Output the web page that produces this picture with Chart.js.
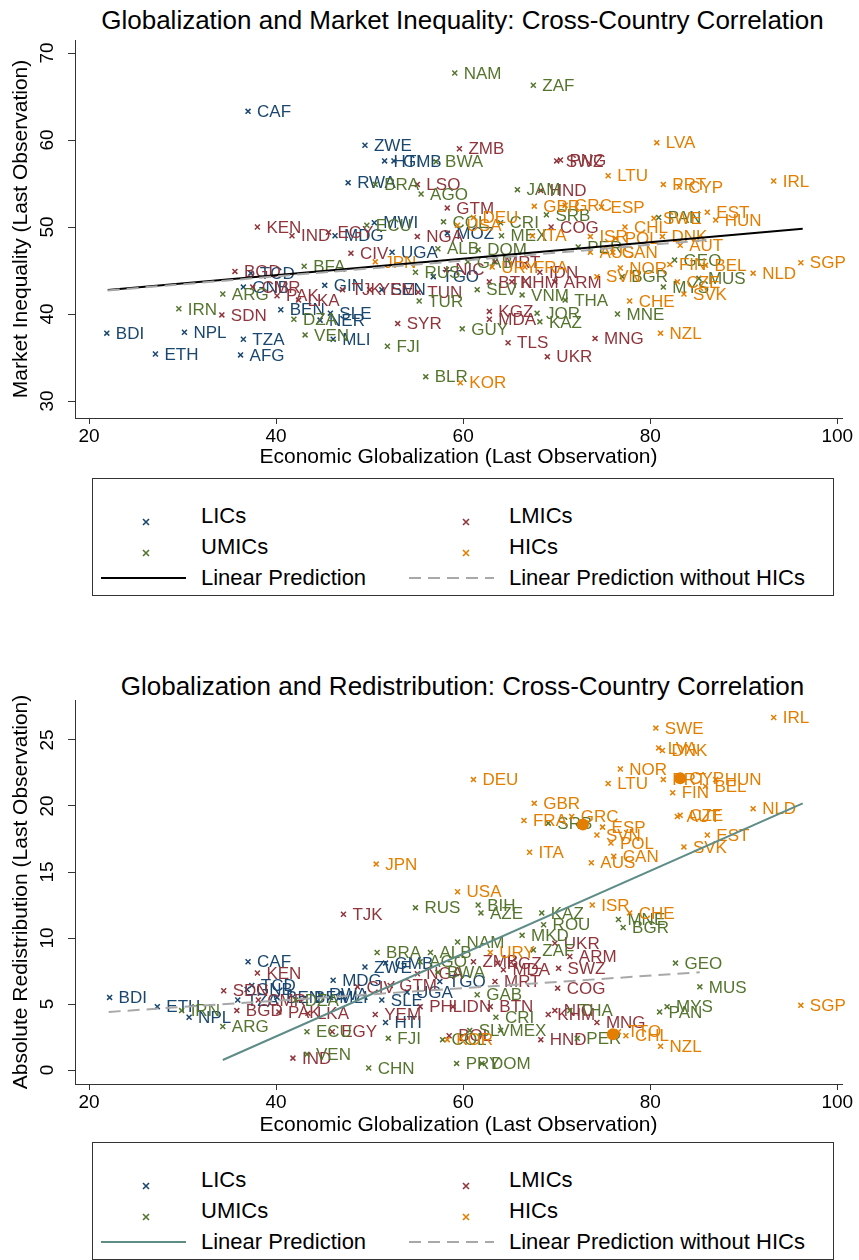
<!DOCTYPE html>
<html>
<head>
<meta charset="utf-8">
<script src="https://cdn.jsdelivr.net/npm/chart.js@4.4.0/dist/chart.umd.min.js"></script>
<style>
  body { margin: 0; background: #fff; }
  #page { position: relative; width: 859px; height: 1260px; overflow: hidden; font-family: "Liberation Sans", Arial, Helvetica, sans-serif; color: #000; }
  .ttl { position: absolute; left: 75px; width: 775px; text-align: center; font-size: 26px; line-height: 30px; white-space: nowrap; }
  .cv { position: absolute; left: 0; }
  .legend { position: absolute; left: 92px; width: 740px; height: 116px; border: 1px solid #333; background: #fff; }
  .legend .it { position: absolute; font-size: 22px; line-height: 26px; white-space: nowrap; }
  .legend .ln { position: absolute; width: 85px; height: 2px; }
</style>
</head>
<body>
<div id="page">
  <div class="ttl" style="top:5px">Globalization and Market Inequality: Cross-Country Correlation</div>
  <canvas id="top" class="cv" style="top:0" width="859" height="476"></canvas>
  <div id="legTop" class="legend" style="top:478px"></div>

  <div class="ttl" style="top:671px">Globalization and Redistribution: Cross-Country Correlation</div>
  <canvas id="bot" class="cv" style="top:630px" width="859" height="510"></canvas>
  <div id="legBot" class="legend" style="top:1142px"></div>
</div>
<script>
const FONT = '"Liberation Sans", Arial, Helvetica, sans-serif';

// tick labels
const xTickValues = [20, 40, 60, 80, 100];
const topYTicks = [30, 40, 50, 60, 70];
const botYTicks = [0, 5, 10, 15, 20, 25];
const groupLabels = ['LICs', 'LMICs', 'UMICs', 'HICs'];
const groupColors = ['#1a476f', '#90353b', '#55752f', '#e37e00'];

// ---- top panel: market inequality ----
const licTopNames = ['CAF','ZWE','HTI','GMB','RWA','UGA','MOZ','MDG','MWI','TGO','GIN','SEN','SLE','NER','MLI','BEN','TCD','GNB','TZA','AFG','ETH','BDI','NPL'];
const licTopX = [37.0,49.5,51.6,52.6,47.7,52.4,58.3,46.3,50.5,56.8,45.2,51.3,45.8,44.7,46.1,40.5,37.3,36.5,36.5,36.2,27.1,21.9,30.2];
const licTopY = [63.3,59.4,57.6,57.6,55.1,47.1,49.3,49.0,50.5,44.3,43.3,42.8,40.1,39.3,37.1,40.5,44.7,43.1,37.1,35.3,35.4,37.8,37.9];

const lmicTopNames = ['ZMB','LSO','GTM','HND','SWZ','PNG','KEN','IND','EGY','CIV','NGA','COG','NIC','MRT','BTN','KHM','IDN','ARM','TJK','YEM','TUN','PAK','LKA','BGD','CMR','SDN','SYR','KGZ','MDA','TLS','UKR','MNG'];
const lmicTopX = [59.6,55.1,58.3,68.3,70.0,70.4,38.0,41.7,45.6,48.0,55.1,69.4,58.2,63.4,62.8,65.2,68.2,69.8,47.1,50.0,55.2,40.1,42.4,35.6,37.5,34.2,53.0,62.8,62.8,64.8,69.0,74.1];
const lmicTopY = [59.0,54.9,52.2,54.2,57.6,57.7,50.0,49.0,49.4,47.0,48.9,50.0,45.1,46.0,43.7,43.7,44.8,43.7,42.8,42.8,42.5,42.1,41.6,44.9,43.1,39.9,38.9,40.3,39.4,36.7,35.1,37.2];

const umicTopNames = ['NAM','ZAF','BWA','BRA','AGO','JAM','SRB','COL','CRI','MEX','ECU','ALB','DOM','GAB','PER','RUS','BFA','DZA','VEN','ARG','IRN','TUR','SLV','VNM','THA','JOR','KAZ','GUY','FJI','BLR','PAN','BGR','MNE','GEO','MUS','MYS'];
const umicTopX = [59.1,67.5,57.1,50.6,55.5,65.8,68.9,57.9,64.0,64.1,49.7,57.3,61.6,60.5,72.3,54.9,43.0,41.9,43.1,34.3,29.6,55.3,61.5,66.3,70.9,67.9,68.2,59.9,51.9,56.0,80.9,77.0,76.5,82.6,85.2,81.4];
const umicTopY = [67.7,66.3,57.5,54.9,53.8,54.3,51.4,50.6,50.5,49.0,50.2,47.5,47.4,46.0,47.7,44.8,45.5,39.4,37.6,42.3,40.6,41.5,42.8,42.2,41.6,40.1,39.1,38.3,36.3,32.8,51.1,44.3,40.0,46.2,44.1,43.1];

const hicTopNames = ['LVA','LTU','PRT','CYP','IRL','EST','HUN','SWE','ESP','GBR','GRC','DEU','USA','ITA','CHL','DNK','AUT','FIN','BEL','NLD','SGP','CZE','SVK','NOR','SVN','CHE','NZL','KOR','JPN','URY','FRA','ISR','POL','AUS','CAN'];
const hicTopX = [80.7,75.5,81.4,83.1,93.2,86.1,87.0,80.4,74.8,67.6,70.9,61.1,59.4,67.4,77.3,81.3,83.2,82.1,85.9,91.0,96.1,82.9,83.6,76.8,74.3,77.8,81.1,59.7,50.6,63.1,66.6,73.6,76.3,73.6,76.0];
const hicTopY = [59.7,55.9,54.9,54.6,55.3,51.7,50.8,51.0,52.3,52.4,52.5,51.1,50.2,49.0,50.0,48.9,47.9,45.7,45.6,44.7,45.9,43.7,42.3,45.3,44.3,41.5,37.8,32.1,46.0,45.4,45.4,48.9,48.7,47.1,47.1];

const topFitX = [22.0, 96.3];
const topFitY = [42.75, 49.8];
const topFitNoHicX = [22.0, 86.0];
const topFitNoHicY = [42.7, 48.5];

// ---- bottom panel: redistribution ----
const licBotNames = ['CAF','TCD','GNB','TZA','BEN','BFA','RWA','MLI','ETH','BDI','NPL','MDG','ZWE','GMB','HTI','SLE','UGA','TGO'];
const licBotX = [37.0,37.4,36.9,35.9,40.1,43.1,44.7,45.8,27.3,22.2,30.7,46.1,49.5,51.7,51.7,51.3,54.0,57.5];
const licBotY = [8.2,6.4,6.1,5.3,5.5,5.5,5.7,5.5,4.8,5.5,4.0,6.8,7.8,8.1,3.6,5.3,5.9,6.7];

const lmicBotNames = ['KEN','SDN','CMR','BGD','PAK','LKA','IND','EGY','YEM','TJK','CIV','NGA','GTM','PHL','IDN','BTN','ZMB','KGZ','MDA','MRT','UKR','ARM','SWZ','COG','KHM','NIC','HND','BOL','MNG'];
const lmicBotX = [38.0,34.4,38.1,35.8,40.3,43.4,41.8,46.0,50.6,47.2,48.7,55.1,52.2,55.4,58.9,62.9,61.1,63.7,64.3,63.4,69.8,71.4,70.2,70.1,69.1,69.8,68.3,58.5,74.3];
const lmicBotY = [7.35,6.0,5.3,4.5,4.4,4.3,0.9,2.9,4.2,11.8,6.3,7.3,6.4,4.8,4.8,4.8,8.2,8.1,7.6,6.7,9.6,8.6,7.7,6.2,4.2,4.5,2.3,2.6,3.6];

const umicBotNames = ['BRA','RUS','ALB','NAM','AGO','BWA','BIH','AZE','KAZ','ROU','MKD','ZAF','GAB','CRI','THA','SRB','MNE','BGR','GEO','MUS','MYS','PAN','PER','SLV','MEX','COL','PRY','DOM','CHN','VEN','FJI','ECU','ARG','IRN','DZA'];
const umicBotX = [50.8,54.9,56.5,59.4,55.4,57.3,61.6,61.9,68.4,68.6,66.3,67.5,61.5,63.5,71.4,69.1,76.6,77.1,82.7,85.3,81.8,81.0,72.2,60.7,64.0,57.8,59.3,62.0,49.9,43.3,52.0,43.3,34.3,29.9,42.1];
const umicBotY = [8.9,12.3,8.9,9.7,8.2,7.4,12.5,11.9,11.9,11.0,10.2,9.1,5.7,4.0,4.5,18.7,11.4,10.8,8.1,6.3,4.8,4.4,2.4,3.0,3.0,2.3,0.5,0.5,0.15,1.2,2.4,2.9,3.3,4.5,5.3];

const hicBotNames = ['IRL','SWE','LVA','DNK','NOR','LTU','PRT','CYP','HUN','BEL','FIN','NLD','AUT','CZE','EST','SVK','GRC','ESP','SVN','POL','CAN','AUS','GBR','FRA','ITA','DEU','JPN','USA','ISR','CHE','URY','SGP','NZL','TTO','CHL','KOR'];
const hicBotX = [93.2,80.6,80.9,81.3,76.8,75.5,81.4,83.2,87.0,85.9,82.4,91.0,82.9,83.2,86.1,83.6,71.6,74.9,74.3,75.8,76.1,73.7,67.6,66.5,67.1,61.1,50.7,59.4,73.8,77.8,62.9,96.1,81.1,76.6,77.4,58.3];
const hicBotY = [26.7,25.9,24.4,24.2,22.8,21.7,22.0,22.1,22.0,21.5,21.0,19.8,19.2,19.3,17.8,16.9,19.2,18.4,17.8,17.2,16.2,15.7,20.2,18.9,16.5,22.0,15.6,13.5,12.5,11.9,8.9,4.9,1.8,2.9,2.6,2.3];

// filled circles drawn over a few HIC points
const hicDotX = [83.2, 72.8, 76.0];
const hicDotY = [22.1, 18.6, 2.7];

const botFitX = [34.3, 96.3];
const botFitY = [0.76, 20.2];
const botFitNoHicX = [22.1, 85.3];
const botFitNoHicY = [4.4, 7.4];

function pts(xs, ys) { return xs.map((x, i) => ({ x: x, y: ys[i] })); }

function group(names, xs, ys, color, order) {
  return {
    label: '', names: names, data: pts(xs, ys), order: order,
    pointStyle: 'crossRot', pointRadius: 3.5, borderWidth: 1.5,
    borderColor: color, backgroundColor: color, showLine: false
  };
}

function fitLine(xs, ys, color, dash, order) {
  return {
    type: 'line', data: pts(xs, ys), order: order, showLine: true,
    borderColor: color, borderWidth: 2, borderDash: dash, pointRadius: 0, fill: false
  };
}

// country codes next to each marker
const pointLabels = {
  id: 'pointLabels',
  afterDatasetDraw(chart, args) {
    const ds = chart.data.datasets[args.index];
    if (!ds.names) return;
    const ctx = chart.ctx;
    ctx.save();
    ctx.font = '17px ' + FONT;
    ctx.fillStyle = ds.borderColor;
    ctx.textBaseline = 'middle';
    args.meta.data.forEach((p, i) => ctx.fillText(ds.names[i], p.x + 9, p.y + 1));
    ctx.restore();
  }
};

// Stata style vertical y tick labels
const yTickLabels = {
  id: 'yTickLabels',
  afterDraw(chart, args, opts) {
    const s = chart.scales.y, ctx = chart.ctx;
    ctx.save();
    ctx.font = '19px ' + FONT;
    ctx.fillStyle = '#000';
    ctx.textAlign = 'center';
    ctx.textBaseline = 'middle';
    s.ticks.forEach(t => {
      ctx.save();
      ctx.translate(opts.x, s.getPixelForValue(t.value));
      ctx.rotate(-Math.PI / 2);
      ctx.fillText(String(t.value), 0, 0);
      ctx.restore();
    });
    ctx.restore();
  }
};

function makeChart(id, datasets, cfg) {
  return new Chart(document.getElementById(id), {
    type: 'scatter',
    data: { datasets: datasets },
    options: {
      responsive: false, animation: false, devicePixelRatio: 1,
      layout: { padding: { left: 0, right: 17, top: cfg.padTop, bottom: 0 } },
      scales: {
        x: {
          type: 'linear', min: 18.5, max: 100.5,
          afterBuildTicks: s => { s.ticks = xTickValues.map(v => ({ value: v })); },
          afterFit: s => { s.height = cfg.xHeight; },
          grid: { drawOnChartArea: false, drawTicks: true, tickLength: 6, color: '#333' },
          border: { display: true, color: '#333', width: 1 },
          ticks: { color: '#000', font: { size: 19, family: FONT }, padding: 1, maxRotation: 0, autoSkip: false },
          title: { display: true, text: 'Economic Globalization (Last Observation)', color: '#000',
                   font: { size: 21, family: FONT }, padding: { top: 0, bottom: cfg.xTitlePad } }
        },
        y: {
          type: 'linear', min: cfg.yMin, max: cfg.yMax,
          afterBuildTicks: s => { s.ticks = cfg.yTicks.map(v => ({ value: v })); },
          afterFit: s => { s.width = 75; },
          grid: { drawOnChartArea: false, drawTicks: true, tickLength: 7, color: '#333' },
          border: { display: true, color: '#333', width: 1 },
          ticks: { display: false },
          title: { display: true, text: cfg.yTitle, color: '#000',
                   font: { size: 21, family: FONT }, padding: { top: 9, bottom: 0 } }
        }
      },
      plugins: {
        legend: { display: false },
        tooltip: { enabled: false },
        yTickLabels: { x: 48 }
      }
    },
    plugins: [pointLabels, yTickLabels]
  });
}

makeChart('top', [
  fitLine(topFitNoHicX, topFitNoHicY, '#a8a8a8', [12, 7], 0),
  fitLine(topFitX, topFitY, '#000', [], 1),
  group(hicTopNames, hicTopX, hicTopY, groupColors[3], 2),
  group(umicTopNames, umicTopX, umicTopY, groupColors[2], 3),
  group(lmicTopNames, lmicTopX, lmicTopY, groupColors[1], 4),
  group(licTopNames, licTopX, licTopY, groupColors[0], 5)
], { padTop: 40, xHeight: 58, xTitlePad: 6, yMin: 28.05, yMax: 71.5, yTicks: topYTicks,
     yTitle: 'Market Inequality (Last Observation)' });

makeChart('bot', [
  fitLine(botFitNoHicX, botFitNoHicY, '#a8a8a8', [12, 7], 0),
  fitLine(botFitX, botFitY, '#5e8c87', [], 1),
  { data: pts(hicDotX, hicDotY), order: 2, pointStyle: 'circle', pointRadius: 6,
    backgroundColor: groupColors[3], borderColor: groupColors[3], borderWidth: 0, showLine: false },
  group(hicBotNames, hicBotX, hicBotY, groupColors[3], 3),
  group(umicBotNames, umicBotX, umicBotY, groupColors[2], 4),
  group(lmicBotNames, lmicBotX, lmicBotY, groupColors[1], 5),
  group(licBotNames, licBotX, licBotY, groupColors[0], 6)
], { padTop: 70, xHeight: 56, xTitlePad: 2, yMin: -1.06, yMax: 28.03, yTicks: botYTicks,
     yTitle: 'Absolute Redistribution (Last Observation)' });

// legends
function cross(color) {
  return '<svg width="8" height="8" viewBox="0 0 8 8"><path d="M1 1L7 7M7 1L1 7" stroke="' + color + '" stroke-width="1.6"/></svg>';
}
function buildLegend(id, fitColor) {
  const el = document.getElementById(id);
  const rows = [37, 68, 99];
  let html = '';
  groupLabels.forEach((lab, i) => {
    const col = i % 2, row = Math.floor(i / 2);
    const mx = col === 0 ? 49 : 369;
    const tx = col === 0 ? 108 : 416;
    html += '<span style="position:absolute;left:' + mx + 'px;top:' + (rows[row] - 4) + 'px">' + cross(groupColors[i]) + '</span>';
    html += '<div class="it" style="left:' + tx + 'px;top:' + (rows[row] - 13) + 'px">' + lab + '</div>';
  });
  html += '<div class="ln" style="left:8px;top:' + (rows[2] - 1) + 'px;background:' + fitColor + '"></div>';
  html += '<div class="it" style="left:108px;top:' + (rows[2] - 13) + 'px">Linear Prediction</div>';
  html += '<div class="ln" style="left:316px;top:' + (rows[2] - 1) + 'px;background:repeating-linear-gradient(90deg,#a8a8a8 0 12px,transparent 12px 19px)"></div>';
  html += '<div class="it" style="left:416px;top:' + (rows[2] - 13) + 'px">Linear Prediction without HICs</div>';
  el.innerHTML = html;
}
buildLegend('legTop', '#000');
buildLegend('legBot', '#5e8c87');
</script>
</body>
</html>
